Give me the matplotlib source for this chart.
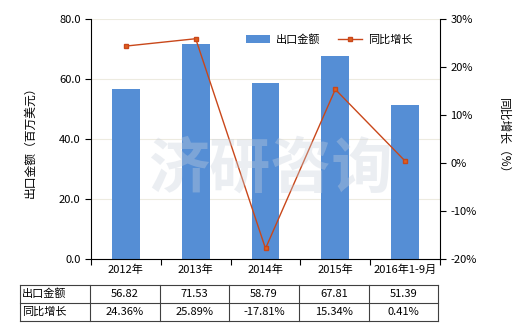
import matplotlib
matplotlib.use("Agg")
import matplotlib.pyplot as plt
from matplotlib.lines import Line2D

plt.rcParams['font.family'] = ['Noto Sans CJK SC', 'DejaVu Sans']

categories = ["2012年", "2013年", "2014年", "2015年", "2016年1-9月"]
export_values = [56.82, 71.53, 58.79, 67.81, 51.39]
growth_values = [24.36, 25.89, -17.81, 15.34, 0.41]
export_labels = ["56.82", "71.53", "58.79", "67.81", "51.39"]
growth_labels = ["24.36%", "25.89%", "-17.81%", "15.34%", "0.41%"]

W, H = 520, 330
fig = plt.figure(figsize=(5.2, 3.3), dpi=100)
left, right, top, bottom = 91, 440, 19, 259
ax = fig.add_axes([left / W, 1 - bottom / H, (right - left) / W, (bottom - top) / H])
ax2 = ax.twinx()

x = list(range(len(categories)))
bar_color = "#558ED5"
line_color = "#C9471A"

ax.set_axisbelow(True)
ax.grid(axis="y", color="#EDEBE0", linewidth=0.8)
ax.bar(x, export_values, width=0.4, color=bar_color, label="出口金额", zorder=2)
ax.set_ylim(0, 80)
ax.set_yticks([0, 20, 40, 60, 80])
ax.set_yticklabels(["0.0", "20.0", "40.0", "60.0", "80.0"])
ax.set_xlim(-0.5, len(categories) - 0.5)
ax.set_xticks([i - 0.5 for i in range(len(categories) + 1)])
ax.set_xticklabels([])
ax.tick_params(axis="x", length=4, width=0.8)
for i, c in enumerate(categories):
    ax.text(i, -0.045, c, transform=ax.get_xaxis_transform(), ha="center", va="center", fontsize=8)

ax2.plot(x, growth_values, color=line_color, linewidth=1, marker="s", markersize=3.5,
         markerfacecolor="#E0611F", markeredgecolor=line_color, label="同比增长", zorder=3)
ax2.set_ylim(-20, 30)
ax2.set_yticks([-20, -10, 0, 10, 20, 30])
ax2.set_yticklabels(["-20%", "-10%", "0%", "10%", "20%", "30%"])

for a in (ax, ax2):
    a.spines["top"].set_visible(False)
    a.spines["left"].set_linewidth(0.8)
    a.spines["right"].set_linewidth(0.8)
    a.spines["bottom"].set_linewidth(0.8)
    a.tick_params(axis="y", labelsize=8, length=4, width=0.8)
ax.spines["right"].set_visible(False)
ax2.spines["left"].set_visible(False)
ax2.spines["bottom"].set_visible(False)

ax.set_ylabel("出口金额（百万美元）", fontsize=8.5, labelpad=16)
ax2.set_ylabel("同比增长（%）", fontsize=8.5, rotation=270, labelpad=24)

# watermark
fig.text(0.52, 0.485, "济研咨询", fontsize=44, color="#C8D0DC", alpha=0.35,
         ha="center", va="center", fontweight="bold", zorder=5)

h1, l1 = ax.get_legend_handles_labels()
h2, l2 = ax2.get_legend_handles_labels()
ax.legend(h1 + h2, l1 + l2, loc="upper right", bbox_to_anchor=(0.95, 0.98), ncol=2,
          frameon=False, fontsize=8, handlelength=2.2, handletextpad=0.5, columnspacing=1.6)

# table
cols = [20, 90, 160, 229, 299, 369, 438]
rows = [285, 303, 321]
def fx(px):
    return px / W
def fy(py):
    return 1 - py / H
for r in rows:
    fig.add_artist(Line2D([fx(cols[0]), fx(cols[-1])], [fy(r), fy(r)], color="#404040", linewidth=0.8))
for c in cols:
    fig.add_artist(Line2D([fx(c), fx(c)], [fy(rows[0]), fy(rows[-1])], color="#404040", linewidth=0.8))
row_titles = ["出口金额", "同比增长"]
row_data = [export_labels, growth_labels]
for ri in range(2):
    yc = (rows[ri] + rows[ri + 1]) / 2
    fig.text(fx(cols[0] + 2), fy(yc), row_titles[ri], ha="left", va="center", fontsize=8)
    for ci, t in enumerate(row_data[ri]):
        xc = (cols[ci + 1] + cols[ci + 2]) / 2
        fig.text(fx(xc), fy(yc), t, ha="center", va="center", fontsize=8)

fig.savefig("out.png", dpi=100)
